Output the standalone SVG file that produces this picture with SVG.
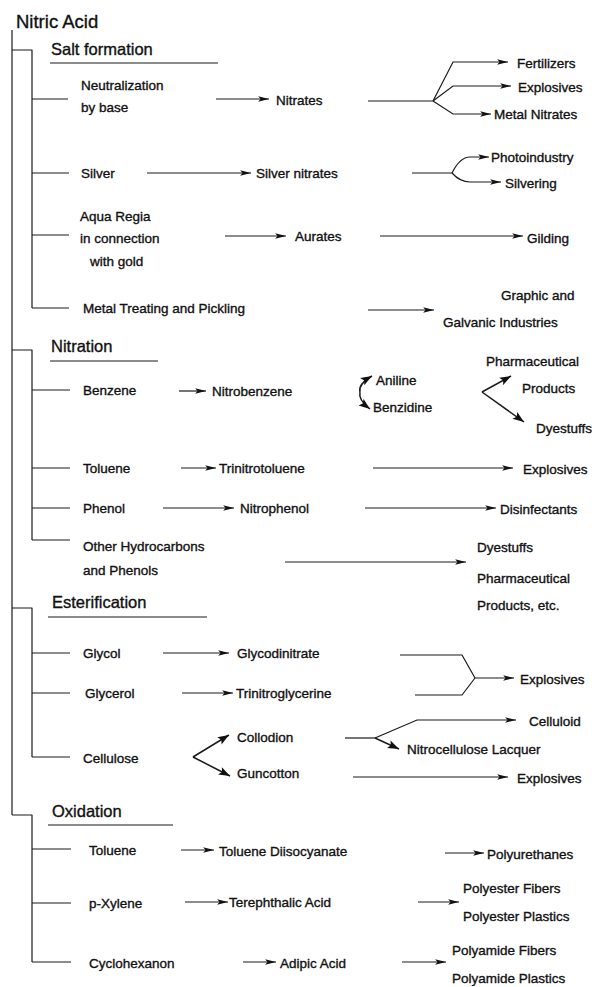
<svg xmlns="http://www.w3.org/2000/svg" width="592" height="987" viewBox="0 0 592 987">
  <style>
    text { font-family: "Liberation Sans", Arial, sans-serif; fill: #111; stroke: #111; stroke-width: 0.35; }
    .title { font-size: 18.5px; }
    .head { font-size: 16.5px; }
    .item { font-size: 13.5px; }
    .ln { fill: none; stroke: #1a1a1a; stroke-width: 1.2; stroke-linejoin: round; stroke-linecap: butt; }
    .arr { fill: none; stroke: #1a1a1a; stroke-width: 1.2; marker-end: url(#head); }
    .arrb { fill: none; stroke: #1a1a1a; stroke-width: 1.5; marker-end: url(#headBig); }
  </style>
  <defs>
    <marker id="head" viewBox="0 0 10 6" refX="10" refY="3" markerWidth="12" markerHeight="6.5" markerUnits="userSpaceOnUse" orient="auto">
      <path d="M0,0.4 L10,3 L0,5.6 L2.2,3 z" fill="#111"/>
    </marker>
    <marker id="headBig" viewBox="0 0 10 8" refX="10" refY="4" markerWidth="12" markerHeight="9" markerUnits="userSpaceOnUse" orient="auto">
      <path d="M0,0.3 L10,4 L0,7.7 L2,4 z" fill="#111"/>
    </marker>
  </defs>

  <rect width="592" height="987" fill="#fff"/>

  <!-- tree brackets, ticks, underlines and arrows -->
  <g id="connectors">
    <!-- main trunk and section brackets -->
    <path class="ln" d="M12,30 V815"/>
    <path class="ln" d="M12,50 H32 V308"/>
    <path class="ln" d="M12,350 H32 V540"/>
    <path class="ln" d="M12,608 H32 V757"/>
    <path class="ln" d="M12,815 H32 V962"/>
    <!-- section underlines -->
    <path class="ln" stroke-width="1" d="M50,63 H218 M50,361 H158 M48,617 H207 M48,825 H173"/>
    <!-- item ticks -->
    <path class="ln" d="M32,99 H68 M32,173 H69 M32,235 H69 M32,308 H69
                        M32,390 H70 M32,468 H70 M32,508 H70 M32,540 H70
                        M32,653 H70 M32,693 H70 M32,757 H70
                        M32,849 H71 M32,903 H71 M32,962 H71"/>

    <!-- Salt formation -->
    <path class="arr" d="M216,99 H269"/>
    <path class="ln" d="M368,101 H433"/>
    <path class="arr" d="M433,101 L453,62 H508"/>
    <path class="arr" d="M433,101 L453,86 H511"/>
    <path class="arr" d="M433,101 L453,114 H491"/>
    <path class="arr" d="M147,173 H251"/>
    <path class="ln" d="M412,173 H452"/>
    <path class="arr" d="M452,173 Q460,157 470,157 H489"/>
    <path class="arr" d="M452,173 Q460,182 470,182 H501"/>
    <path class="arr" d="M225,236 H286"/>
    <path class="arr" d="M380,236 H523"/>
    <path class="arr" d="M368,310 H434"/>

    <!-- Nitration -->
    <path class="arr" d="M179,391 H206"/>
    <path class="arrb" d="M360,392 Q358,384 372,376"/>
    <path class="arrb" d="M360,392 Q358,400 370,409"/>
    <path class="arrb" d="M482,392 L511,376"/>
    <path class="arrb" d="M482,392 L524,422"/>
    <path class="arr" d="M181,468 H216"/>
    <path class="arr" d="M373,468 H513"/>
    <path class="arr" d="M163,508 H234"/>
    <path class="arr" d="M365,508 H496"/>
    <path class="arr" d="M285,562 H466"/>

    <!-- Esterification -->
    <path class="arr" d="M163,653 H229"/>
    <path class="arr" d="M182,693 H233"/>
    <path class="ln" d="M400,655 H462 L475,678"/>
    <path class="ln" d="M415,695 H462 L475,678"/>
    <path class="arr" d="M475,678 H514"/>
    <path class="arrb" d="M193,757 L229,735"/>
    <path class="arrb" d="M193,757 L230,776"/>
    <path class="ln" d="M345,738 H375"/>
    <path class="arr" d="M375,738 L417,720 H516"/>
    <path class="arrb" d="M375,738 L399,749"/>
    <path class="arr" d="M353,777 H508"/>

    <!-- Oxidation -->
    <path class="arr" d="M181,850 H214"/>
    <path class="arr" d="M445,853 H484"/>
    <path class="arr" d="M185,902 H228"/>
    <path class="arr" d="M418,902 H459"/>
    <path class="arr" d="M243,962 H276"/>
    <path class="arr" d="M402,962 H446"/>
  </g>

  <!-- root -->
  <g id="nitric-acid"><text class="title" x="16" y="28">Nitric Acid</text></g>

  <!-- Salt formation -->
  <g id="salt-formation"><text class="head" x="51" y="55">Salt formation</text></g>
  <g id="neutralization"><text class="item" x="81" y="90">Neutralization</text><text class="item" x="81" y="112">by base</text></g>
  <g id="nitrates"><text class="item" x="276" y="105">Nitrates</text></g>
  <g id="fertilizers"><text class="item" x="517" y="68">Fertilizers</text></g>
  <g id="explosives-1"><text class="item" x="518" y="92">Explosives</text></g>
  <g id="metal-nitrates"><text class="item" x="494" y="119">Metal Nitrates</text></g>
  <g id="silver"><text class="item" x="81" y="178">Silver</text></g>
  <g id="silver-nitrates"><text class="item" x="256" y="178">Silver nitrates</text></g>
  <g id="photoindustry"><text class="item" x="491" y="162">Photoindustry</text></g>
  <g id="silvering"><text class="item" x="505" y="188">Silvering</text></g>
  <g id="aqua-regia"><text class="item" x="80" y="221">Aqua Regia</text><text class="item" x="80" y="243">in connection</text><text class="item" x="90" y="266">with gold</text></g>
  <g id="aurates"><text class="item" x="295" y="241">Aurates</text></g>
  <g id="gilding"><text class="item" x="527" y="243">Gilding</text></g>
  <g id="metal-treating"><text class="item" x="83" y="313">Metal Treating and Pickling</text></g>
  <g id="graphic-galvanic"><text class="item" x="501" y="300">Graphic and</text><text class="item" x="443" y="327">Galvanic Industries</text></g>

  <!-- Nitration -->
  <g id="nitration"><text class="head" x="51" y="352">Nitration</text></g>
  <g id="benzene"><text class="item" x="83" y="395">Benzene</text></g>
  <g id="nitrobenzene"><text class="item" x="212" y="396">Nitrobenzene</text></g>
  <g id="aniline"><text class="item" x="376" y="385">Aniline</text></g>
  <g id="benzidine"><text class="item" x="373" y="412">Benzidine</text></g>
  <g id="pharma-products-1"><text class="item" x="486" y="366">Pharmaceutical</text><text class="item" x="522" y="393">Products</text></g>
  <g id="dyestuffs-1"><text class="item" x="536" y="433">Dyestuffs</text></g>
  <g id="toluene-1"><text class="item" x="83" y="473">Toluene</text></g>
  <g id="trinitrotoluene"><text class="item" x="219" y="473">Trinitrotoluene</text></g>
  <g id="explosives-2"><text class="item" x="523" y="474">Explosives</text></g>
  <g id="phenol"><text class="item" x="83" y="513">Phenol</text></g>
  <g id="nitrophenol"><text class="item" x="240" y="513">Nitrophenol</text></g>
  <g id="disinfectants"><text class="item" x="500" y="514">Disinfectants</text></g>
  <g id="other-hydrocarbons"><text class="item" x="83" y="551">Other Hydrocarbons</text><text class="item" x="83" y="575">and Phenols</text></g>
  <g id="dyestuffs-pharma"><text class="item" x="477" y="552">Dyestuffs</text><text class="item" x="477" y="583">Pharmaceutical</text><text class="item" x="477" y="610">Products, etc.</text></g>

  <!-- Esterification -->
  <g id="esterification"><text class="head" x="52" y="608">Esterification</text></g>
  <g id="glycol"><text class="item" x="83" y="658">Glycol</text></g>
  <g id="glycodinitrate"><text class="item" x="237" y="658">Glycodinitrate</text></g>
  <g id="glycerol"><text class="item" x="85" y="698">Glycerol</text></g>
  <g id="trinitroglycerine"><text class="item" x="236" y="698">Trinitroglycerine</text></g>
  <g id="explosives-3"><text class="item" x="520" y="684">Explosives</text></g>
  <g id="cellulose"><text class="item" x="83" y="763">Cellulose</text></g>
  <g id="collodion"><text class="item" x="237" y="742">Collodion</text></g>
  <g id="guncotton"><text class="item" x="237" y="778">Guncotton</text></g>
  <g id="celluloid"><text class="item" x="529" y="726">Celluloid</text></g>
  <g id="nitrocellulose-lacquer"><text class="item" x="407" y="754">Nitrocellulose Lacquer</text></g>
  <g id="explosives-4"><text class="item" x="517" y="783">Explosives</text></g>

  <!-- Oxidation -->
  <g id="oxidation"><text class="head" x="52" y="817">Oxidation</text></g>
  <g id="toluene-2"><text class="item" x="89" y="855">Toluene</text></g>
  <g id="toluene-diisocyanate"><text class="item" x="219" y="856">Toluene Diisocyanate</text></g>
  <g id="polyurethanes"><text class="item" x="487" y="859">Polyurethanes</text></g>
  <g id="p-xylene"><text class="item" x="89" y="908">p-Xylene</text></g>
  <g id="terephthalic-acid"><text class="item" x="229" y="907">Terephthalic Acid</text></g>
  <g id="polyester"><text class="item" x="463" y="893">Polyester Fibers</text><text class="item" x="463" y="921">Polyester Plastics</text></g>
  <g id="cyclohexanon"><text class="item" x="89" y="968">Cyclohexanon</text></g>
  <g id="adipic-acid"><text class="item" x="280" y="968">Adipic Acid</text></g>
  <g id="polyamide"><text class="item" x="452" y="955">Polyamide Fibers</text><text class="item" x="452" y="983">Polyamide Plastics</text></g>
</svg>
